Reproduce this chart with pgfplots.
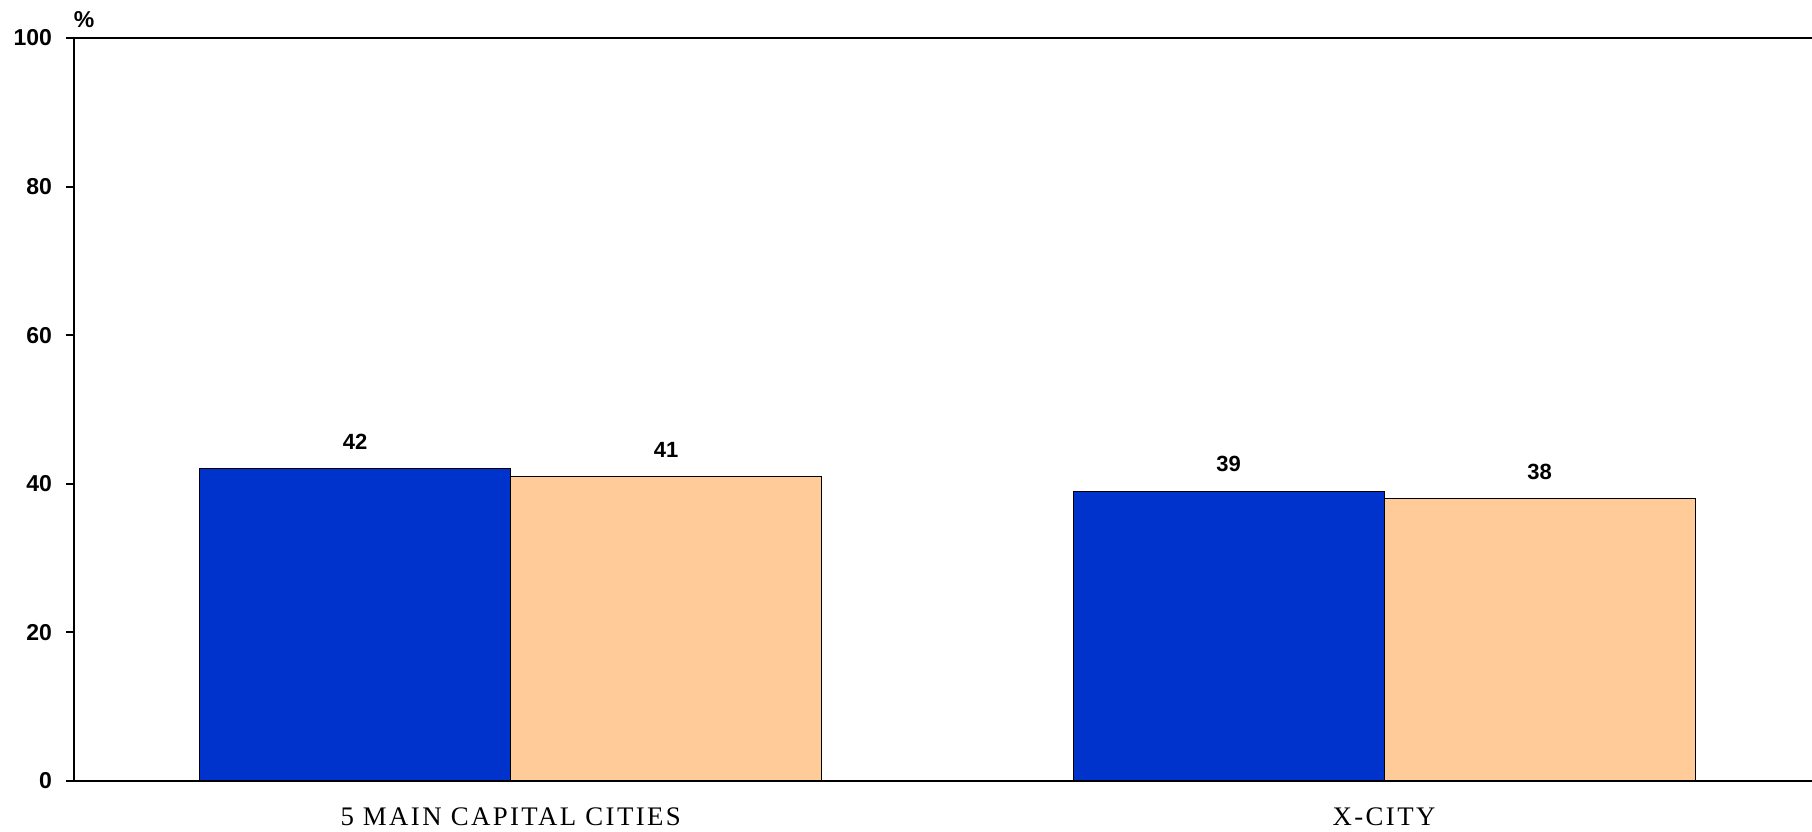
\documentclass[border=0pt]{standalone}
\usepackage{fontspec}
\setmainfont{Liberation Sans}
\newfontfamily\catfont[LetterSpace=9]{Liberation Serif}
\usepackage{pgfplots}
\pgfplotsset{compat=1.18}
\definecolor{barblue}{HTML}{0033CC}
\definecolor{barpeach}{HTML}{FFCC99}
\begin{document}
\begin{tikzpicture}
\begin{axis}[
  name=ax,
  scale only axis,
  width=869pt, height=371.5pt,
  xmin=-0.5, xmax=1.49,
  ymin=0, ymax=100,
  axis x line=box, axis y line=left,
  axis line style={-, line width=1pt, black},
  xtick={0,1},
  xticklabels={5 MAIN CAPITAL CITIES, X-CITY},
  x tick style={draw=none},
  xticklabel style={font=\catfont\fontsize{13.4}{15}\selectfont, yshift=-6pt},
  ytick={0,20,40,60,80,100},
  y tick style={line width=1pt, black},
  tick align=outside,
  major tick length=4pt,
  yticklabel style={font=\bfseries\fontsize{11.5}{13}\selectfont, xshift=-3.5pt},
  /pgf/number format/assume math mode=true,
  ybar=0pt,
  bar width=155.5pt,
  nodes near coords,
  every node near coord/.append style={font=\bfseries\fontsize{11}{13}\selectfont, yshift=6pt},
  clip=false,
]
\addplot[fill=barblue, draw=black, line width=0.5pt] coordinates {(0,42) (1,39)};
\addplot[fill=barpeach, draw=black, line width=0.5pt] coordinates {(0,41) (1,38)};
\node[font=\bfseries\fontsize{11.5}{13}\selectfont] at ([shift={(5pt,9pt)}]rel axis cs:0,1) {\%};
\end{axis}
\pgfresetboundingbox
\path[use as bounding box] ([shift={(-37pt,-25pt)}]ax.south west) rectangle ([shift={(869pt,390.5pt)}]ax.south west);
\end{tikzpicture}
\end{document}
